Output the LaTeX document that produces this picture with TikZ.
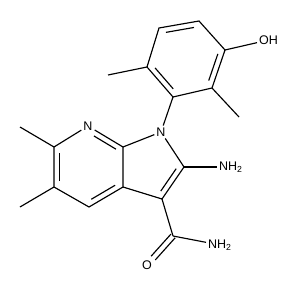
\documentclass[tikz,border=0pt]{standalone}
\usepackage{fontspec}
\setmainfont{Liberation Sans}
\usetikzlibrary{calc}
\newcommand\inb[4]{\draw ($(#1)!#3!(#2)!5.5pt!-90:(#2)$) -- ($(#2)!#4!(#1)!5.5pt!90:(#1)$);}
\begin{document}
\begin{tikzpicture}[x=1pt,y=-1pt,line width=1.15pt,
  atom/.style={inner sep=1.6pt, font=\fontsize{12.5}{13}\selectfont}]
\useasboundingbox (0,0) rectangle (299,291);
% benzene ring
\coordinate (TL) at (159,28);
\coordinate (TR) at (199,21);
\coordinate (C3p) at (225,50);
\coordinate (C2p) at (212,88);
\coordinate (C1p) at (173,97);
\coordinate (C6p) at (147,67);
\coordinate (Me6p) at (108,75);
\coordinate (Me2p) at (239,117);
% bicyclic core
\coordinate (C7a) at (123,147);
\coordinate (C3a) at (123,187);
\coordinate (C4) at (89,207);
\coordinate (C5) at (54,187);
\coordinate (C6) at (54,147);
\coordinate (C2) at (184,167);
\coordinate (C3) at (162,199);
\coordinate (Me6) at (20,127);
\coordinate (Me5) at (20,207);
\coordinate (CO) at (173,236);
% labelled atoms
\node[atom] (N7) at (88,126) {N};
\node[atom] (N1) at (161,132) {N};
\node[atom] (O) at (147,265) {O};
\node[atom,anchor=west] (OH) at (257,40) {OH};
\node[atom,anchor=west] (NHa) at (217,167) {NH\textsubscript{2}};
\node[atom,anchor=west] (NHb) at (206,245) {NH\textsubscript{2}};
% single bonds
\draw (TL) -- (TR) -- (C3p) -- (C2p) -- (C1p) -- (C6p) -- cycle;
\draw (C6p) -- (Me6p);
\draw (C2p) -- (Me2p);
\draw (C3p) -- (OH);
\draw (C1p) -- (N1);
\draw (N1) -- (C7a);
\draw (N7) -- (C7a);
\draw (N7) -- (C6);
\draw (C6) -- (C5) -- (C4) -- (C3a) -- (C7a);
\draw (C3a) -- (C3) -- (C2) -- (N1);
\draw (C6) -- (Me6);
\draw (C5) -- (Me5);
\draw (C2) -- (NHa);
\draw (C3) -- (CO);
\draw (CO) -- (NHb);
% inner lines of double bonds
\inb{TL}{TR}{0.15}{0.15}
\inb{C3p}{C2p}{0.15}{0.15}
\inb{C1p}{C6p}{0.15}{0.15}
\inb{N7}{C7a}{0.25}{0.12}
\inb{C3a}{C4}{0.15}{0.15}
\inb{C5}{C6}{0.15}{0.15}
\inb{C2}{C3}{0.15}{0.15}
% carbonyl
\draw ($(CO)!2.8pt!90:(O)$) -- ($($(O)!0.24!(CO)$)!2.8pt!-90:(CO)$);
\draw ($(CO)!2.8pt!-90:(O)$) -- ($($(O)!0.24!(CO)$)!2.8pt!90:(CO)$);
\end{tikzpicture}
\end{document}
